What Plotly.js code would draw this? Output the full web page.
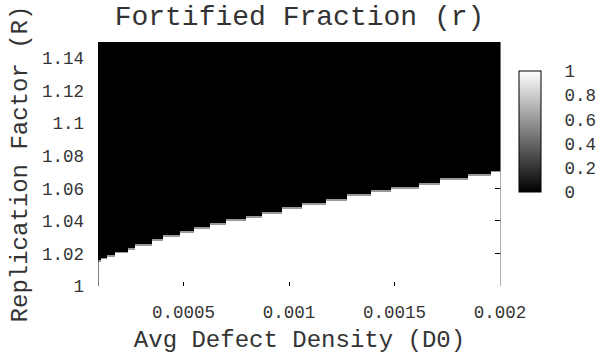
<!DOCTYPE html>
<html>
<head>
<meta charset="utf-8">
<script src="https://cdn.plot.ly/plotly-3.0.1.min.js"></script>
<style>
  html, body { margin: 0; padding: 0; background: #fff; }
  #chart { width: 609px; height: 354px; }
</style>
</head>
<body>
<div id="chart"></div>
<script>
// Grid of average defect density (D0): column edges of the map
const d0Edges = [0.0000943, 0.000109, 0.000137, 0.000175, 0.000236, 0.000269, 0.000349,
  0.000401, 0.000481, 0.000547, 0.000623, 0.000703, 0.000797, 0.000873, 0.000967,
  0.001061, 0.001175, 0.001274, 0.001387, 0.001481, 0.001618, 0.001717, 0.001849,
  0.001958, 0.0020047];

// Replication factor above which the fortified fraction drops to 0, per column
const rCritical = [1.0160, 1.0175, 1.0191, 1.0212, 1.0232, 1.0261, 1.0287, 1.0313,
  1.0338, 1.0361, 1.0385, 1.0410, 1.0432, 1.0457, 1.0486, 1.0512, 1.0533, 1.0564,
  1.0590, 1.0610, 1.0635, 1.0662, 1.0687, 1.0710];

// Fortified fraction values: below the boundary, on the boundary cell, above it
const rBelow = 1;
const rEdge = 0.6;
const rAbove = 0;

const xTickVals = [0.0005, 0.001, 0.0015, 0.002];
const xTickText = ['0.0005', '0.001', '0.0015', '0.002'];
const yTickVals = [1, 1.02, 1.04, 1.06, 1.08, 1.1, 1.12, 1.14];
const yTickText = ['1', '1.02', '1.04', '1.06', '1.08', '1.1', '1.12', '1.14'];
const cTickVals = [0, 0.2, 0.4, 0.6, 0.8, 1];
const cTickText = ['0', '0.2', '0.4', '0.6', '0.8', '1'];

// Plot window
const rRange = [1, 1.15];
const dRange = [d0Edges[0], d0Edges[d0Edges.length - 1]];
const edgeBand = 0.0012;   // thickness (in R) of the boundary cells

// Build the row edges so every column's boundary lands on a row edge
let rowEdges = [rRange[0], rRange[1]];
rCritical.forEach(r => { rowEdges.push(r - edgeBand, r); });
rowEdges = Array.from(new Set(rowEdges.map(v => +v.toFixed(6)))).sort((a, b) => a - b);

const z = [];
for (let i = 0; i < rowEdges.length - 1; i++) {
  const mid = (rowEdges[i] + rowEdges[i + 1]) / 2;
  const row = rCritical.map(rc => mid < rc - edgeBand ? rBelow : (mid < rc ? rEdge : rAbove));
  z.push(row);
}

const FONT = 'Liberation Mono, Courier New, monospace';
const TXT = '#333';

// pixel geometry of the plot frame
const M = { l: 98, r: 106, t: 42, b: 68 };
const W = 609, H = 354;
const plotW = W - M.l - M.r, plotH = H - M.t - M.b;
const pxX = px => (px - M.l) / plotW;
const pxY = py => (H - M.b - py) / plotH;

// colour bar geometry
const cbLeft = 521, cbRight = 543, cbTop = 71, cbBottom = 192;

const shapes = [
  // left frame edge
  { type: 'line', xref: 'x', yref: 'y', x0: dRange[0], x1: dRange[0], y0: rRange[0], y1: rRange[1],
    line: { color: '#000', width: 1 } },
  // right frame edge
  { type: 'line', xref: 'x', yref: 'y', x0: dRange[1], x1: dRange[1], y0: rRange[0], y1: rRange[1],
    line: { color: '#999', width: 1.5 } }
];
// tick marks on both sides of the colour bar
cTickVals.slice(1, -1).forEach(v => {
  const py = cbBottom - v * (cbBottom - cbTop);
  shapes.push({ type: 'line', xref: 'paper', yref: 'paper', x0: pxX(cbLeft), x1: pxX(cbLeft + 4),
    y0: pxY(py), y1: pxY(py), line: { color: '#000', width: 1 } });
  shapes.push({ type: 'line', xref: 'paper', yref: 'paper', x0: pxX(cbRight - 4), x1: pxX(cbRight),
    y0: pxY(py), y1: pxY(py), line: { color: '#000', width: 1 } });
});

const trace = {
  type: 'heatmap',
  x: d0Edges,
  y: rowEdges,
  z: z,
  zmin: 0,
  zmax: 1,
  colorscale: [[0, '#000000'], [1, '#ffffff']],
  hoverinfo: 'skip',
  colorbar: {
    x: pxX(cbLeft), xanchor: 'left', xpad: 0,
    y: pxY((cbTop + cbBottom) / 2), yanchor: 'middle', ypad: 0,
    thickness: cbRight - cbLeft,
    len: cbBottom - cbTop, lenmode: 'pixels',
    outlinewidth: 1, outlinecolor: '#000',
    tickvals: cTickVals, ticktext: cTickText,
    ticks: 'outside', ticklen: 20, tickcolor: 'rgba(0,0,0,0)',
    tickfont: { family: FONT, size: 17.5, color: TXT }
  }
};

const layout = {
  width: W, height: H,
  margin: M,
  paper_bgcolor: '#fff', plot_bgcolor: '#fff',
  showlegend: false,
  title: {
    text: 'Fortified Fraction (r)',
    font: { family: FONT, size: 28, color: TXT },
    xref: 'paper', x: 0.5, xanchor: 'center',
    yref: 'container', y: 1 - 15 / H, yanchor: 'middle'
  },
  xaxis: {
    range: dRange,
    tickvals: xTickVals, ticktext: xTickText,
    ticks: 'inside', ticklen: 4, tickwidth: 1, tickcolor: '#000',
    mirror: 'ticks', showline: false, showgrid: false, zeroline: false,
    tickfont: { family: FONT, size: 17.5, color: TXT },
    ticklabelstandoff: 13,
    title: { text: 'Avg Defect Density (D0)', font: { family: FONT, size: 24, color: TXT }, standoff: 13 }
  },
  yaxis: {
    range: rRange,
    tickvals: yTickVals, ticktext: yTickText,
    ticks: 'inside', ticklen: 6, tickwidth: 1, tickcolor: '#000',
    mirror: 'ticks', showline: false, showgrid: false, zeroline: false,
    tickfont: { family: FONT, size: 17.5, color: TXT },
    ticklabelstandoff: 13,
    title: { text: 'Replication Factor (R)', font: { family: FONT, size: 24, color: TXT }, standoff: 7 }
  },
  shapes: shapes
};

Plotly.newPlot('chart', [trace], layout, { staticPlot: true, displayModeBar: false });
</script>
</body>
</html>
